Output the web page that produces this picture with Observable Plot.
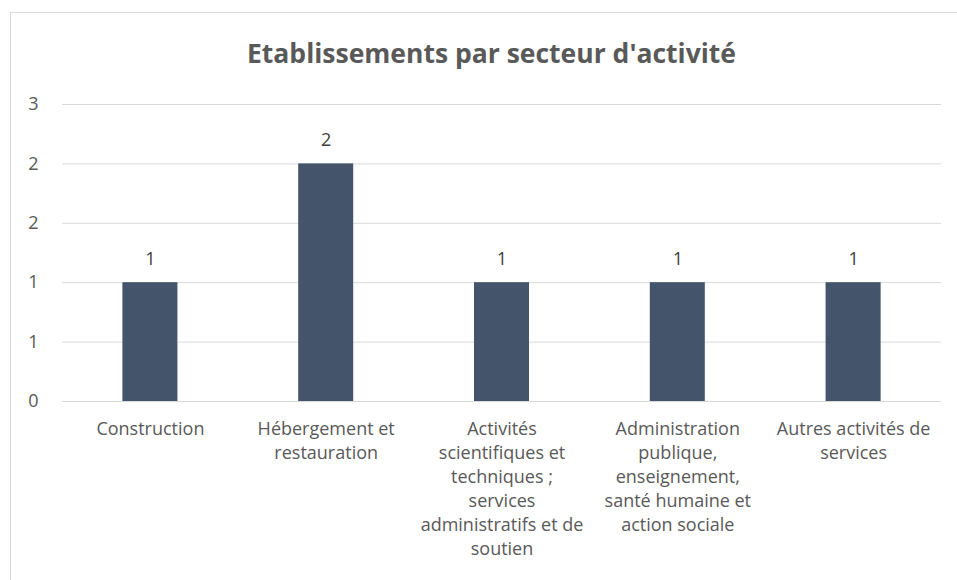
<!DOCTYPE html>
<html>
<head>
<meta charset="utf-8">
<script src="https://cdn.jsdelivr.net/npm/d3@7"></script>
<script src="https://cdn.jsdelivr.net/npm/@observablehq/plot@0.6"></script>
<style>
  html, body { margin: 0; padding: 0; background: #fff; overflow: hidden; }
  body { width: 957px; height: 580px; position: relative; font-family: "Open Sans", sans-serif; }
  #frame { position: absolute; left: 10px; top: 12px; width: 980px; height: 600px; border: 1px solid #d9d9d9; box-sizing: border-box; }
  #title { position: absolute; left: 10px; width: 963px; top: 40px; text-align: center; font-size: 26.5px; font-weight: bold; color: #595959; line-height: 1; }
  #chart { position: absolute; left: 0; top: 0; }
</style>
</head>
<body>
<div id="frame"></div>
<div id="title">Etablissements par secteur d'activité</div>
<div id="chart"></div>
<script>
const categories = [
  "Construction",
  "Hébergement et restauration",
  "Activités scientifiques et techniques ; services administratifs et de soutien",
  "Administration publique, enseignement, santé humaine et action sociale",
  "Autres activités de services"
];
const categoryLabels = [
  "Construction",
  "Hébergement et\nrestauration",
  "Activités\nscientifiques et\ntechniques ;\nservices\nadministratifs et de\nsoutien",
  "Administration\npublique,\nenseignement,\nsanté humaine et\naction sociale",
  "Autres activités de\nservices"
];
const values = [1, 2, 1, 1, 1];
const yTicks = [0, 0.5, 1, 1.5, 2, 2.5];
const yTickLabels = ["0", "1", "1", "2", "2", "3"];

const data = categories.map((c, i) => ({category: c, value: values[i]}));

const plot = Plot.plot({
  width: 957,
  height: 580,
  marginLeft: 62,
  marginRight: 16,
  marginTop: 104,
  marginBottom: 179,
  style: {fontFamily: "Open Sans, sans-serif", fontSize: "18px", color: "#595959", background: "transparent"},
  x: {domain: categories, paddingInner: 0.687, paddingOuter: 0.3435, round: false, label: null},
  y: {domain: [0, 2.5], label: null},
  marks: [
    Plot.gridY(yTicks, {stroke: "#d9d9d9", strokeOpacity: 1, strokeWidth: 1}),
    Plot.axisY(yTicks, {tickSize: 0, tickPadding: 24, tickFormat: (d, i) => yTickLabels[i], fontSize: 18, fill: "#595959"}),
    Plot.axisX({tickSize: 0, tickPadding: 16, tickFormat: (d, i) => categoryLabels[categories.indexOf(d)], fontSize: 18, fill: "#595959", lineHeight: 1.333}),
    Plot.barY(data, {x: "category", y: "value", fill: "#44546a"}),
    Plot.text(data, {x: "category", y: "value", text: d => String(d.value), lineAnchor: "bottom", dy: -18, fontSize: 18, fill: "#404040"})
  ]
});
document.getElementById("chart").appendChild(plot);
</script>
</body>
</html>
